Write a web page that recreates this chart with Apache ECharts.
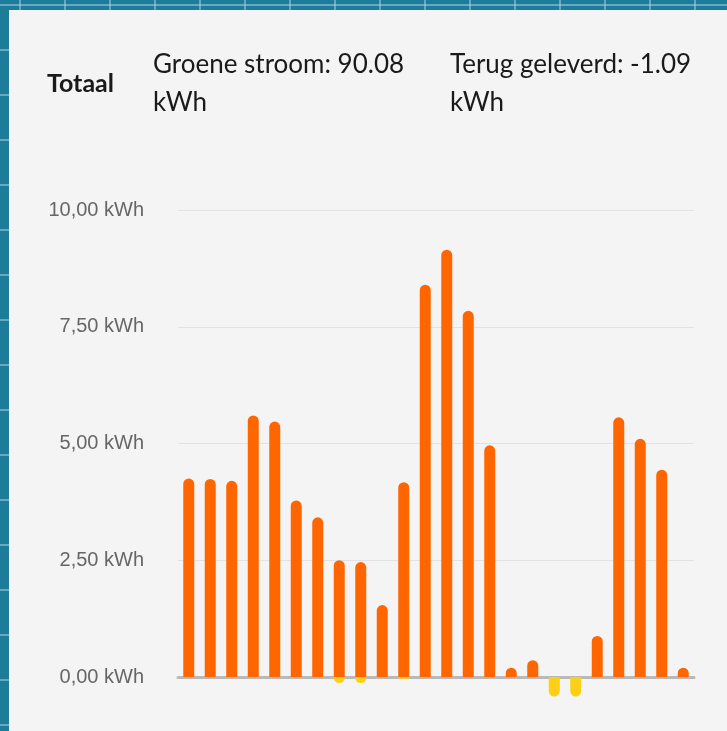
<!DOCTYPE html>
<html>
<head>
<meta charset="utf-8">
<script src="https://cdn.jsdelivr.net/npm/echarts@6/dist/echarts.min.js"></script>
<style>
    html, body {
        margin: 0;
        width: 727px;
        height: 731px;
        overflow: hidden;
    }
    body {
        background-color: #1d7c99;
        background-image:
            linear-gradient(to right, rgba(170, 215, 235, 0.5) 2px, transparent 2px),
            linear-gradient(to bottom, rgba(170, 215, 235, 0.5) 2px, transparent 2px);
        background-size: 45px 45px;
        background-position: 19px 4px;
    }
    #energy-chart {
        position: absolute;
        left: 9px;
        top: 10px;
        width: 718px;
        height: 721px;
    }
</style>
</head>
<body>
<div id="energy-chart"></div>
<script>
// one bar per day
var dagen = ['1', '2', '3', '4', '5', '6', '7', '8', '9', '10', '11', '12',
    '13', '14', '15', '16', '17', '18', '19', '20', '21', '22', '23', '24'];
// groene stroom (kWh)
var groeneStroom = [4.25, 4.24, 4.2, 5.6, 5.47, 3.78, 3.42, 2.5, 2.46, 1.54, 4.17, 8.4,
    9.15, 7.84, 4.96, 0.2, 0.36, 0, 0, 0.88, 5.56, 5.1, 4.44, 0.2];
// terug geleverd (kWh)
var terugGeleverd = [0, 0, 0, 0, 0, 0, 0, -0.13, -0.13, 0, -0.04, 0,
    0, 0, 0, 0, 0, -0.42, -0.42, 0, 0, 0, 0, 0];
var yTicks = [0, 2.5, 5, 7.5, 10];

var totaalGroen = '90.08';
var totaalTerug = '-1.09';

var drawEnergyChart = function() {
    var chart = echarts.init(document.getElementById('energy-chart'));
    var headStyle = {
        fontFamily: 'Lato',
        fontSize: 26,
        fontWeight: 'normal',
        color: '#1a1a1a',
        lineHeight: 38
    };
    var option = {
        backgroundColor: '#f4f4f4',
        animation: false,
        title: [{
            text: 'Totaal',
            left: 38,
            top: 61,
            padding: 0,
            textStyle: {
                fontFamily: 'Lato',
                fontSize: 25,
                fontWeight: 'bold',
                color: '#1a1a1a'
            }
        }, {
            text: 'Groene stroom: ' + totaalGroen + '\nkWh',
            left: 144,
            top: 36,
            padding: 0,
            textStyle: headStyle
        }, {
            text: 'Terug geleverd: ' + totaalTerug + '\nkWh',
            left: 441,
            top: 36,
            padding: 0,
            textStyle: headStyle
        }],
        grid: {
            left: 169,
            right: 33,
            top: 200,
            bottom: 54
        },
        xAxis: {
            type: 'category',
            data: dagen,
            axisLine: {
                lineStyle: {
                    color: '#b9b9b9',
                    width: 3
                }
            },
            axisTick: {show: false},
            axisLabel: {show: false}
        },
        yAxis: {
            type: 'value',
            min: yTicks[0],
            max: yTicks[yTicks.length - 1],
            interval: 2.5,
            axisLine: {show: false},
            axisTick: {show: false},
            splitLine: {
                lineStyle: {
                    color: '#e2e2e2',
                    width: 1
                }
            },
            axisLabel: {
                margin: 34,
                fontFamily: 'Liberation Sans',
                fontSize: 20,
                color: '#666666',
                formatter: function(v) {
                    return v.toFixed(2).replace('.', ',') + ' kWh';
                }
            }
        },
        series: [{
            name: 'Groene stroom',
            type: 'bar',
            data: groeneStroom,
            barWidth: 11,
            barGap: '-100%',
            clip: false,
            itemStyle: {
                color: '#ff6600',
                borderRadius: [6, 6, 0, 0]
            }
        }, {
            name: 'Terug geleverd',
            type: 'bar',
            data: terugGeleverd,
            barWidth: 11,
            clip: false,
            itemStyle: {
                color: '#fdcf16',
                borderRadius: [0, 0, 6, 6]
            }
        }]
    };
    chart.setOption(option);
};

drawEnergyChart();
</script>
</body>
</html>
